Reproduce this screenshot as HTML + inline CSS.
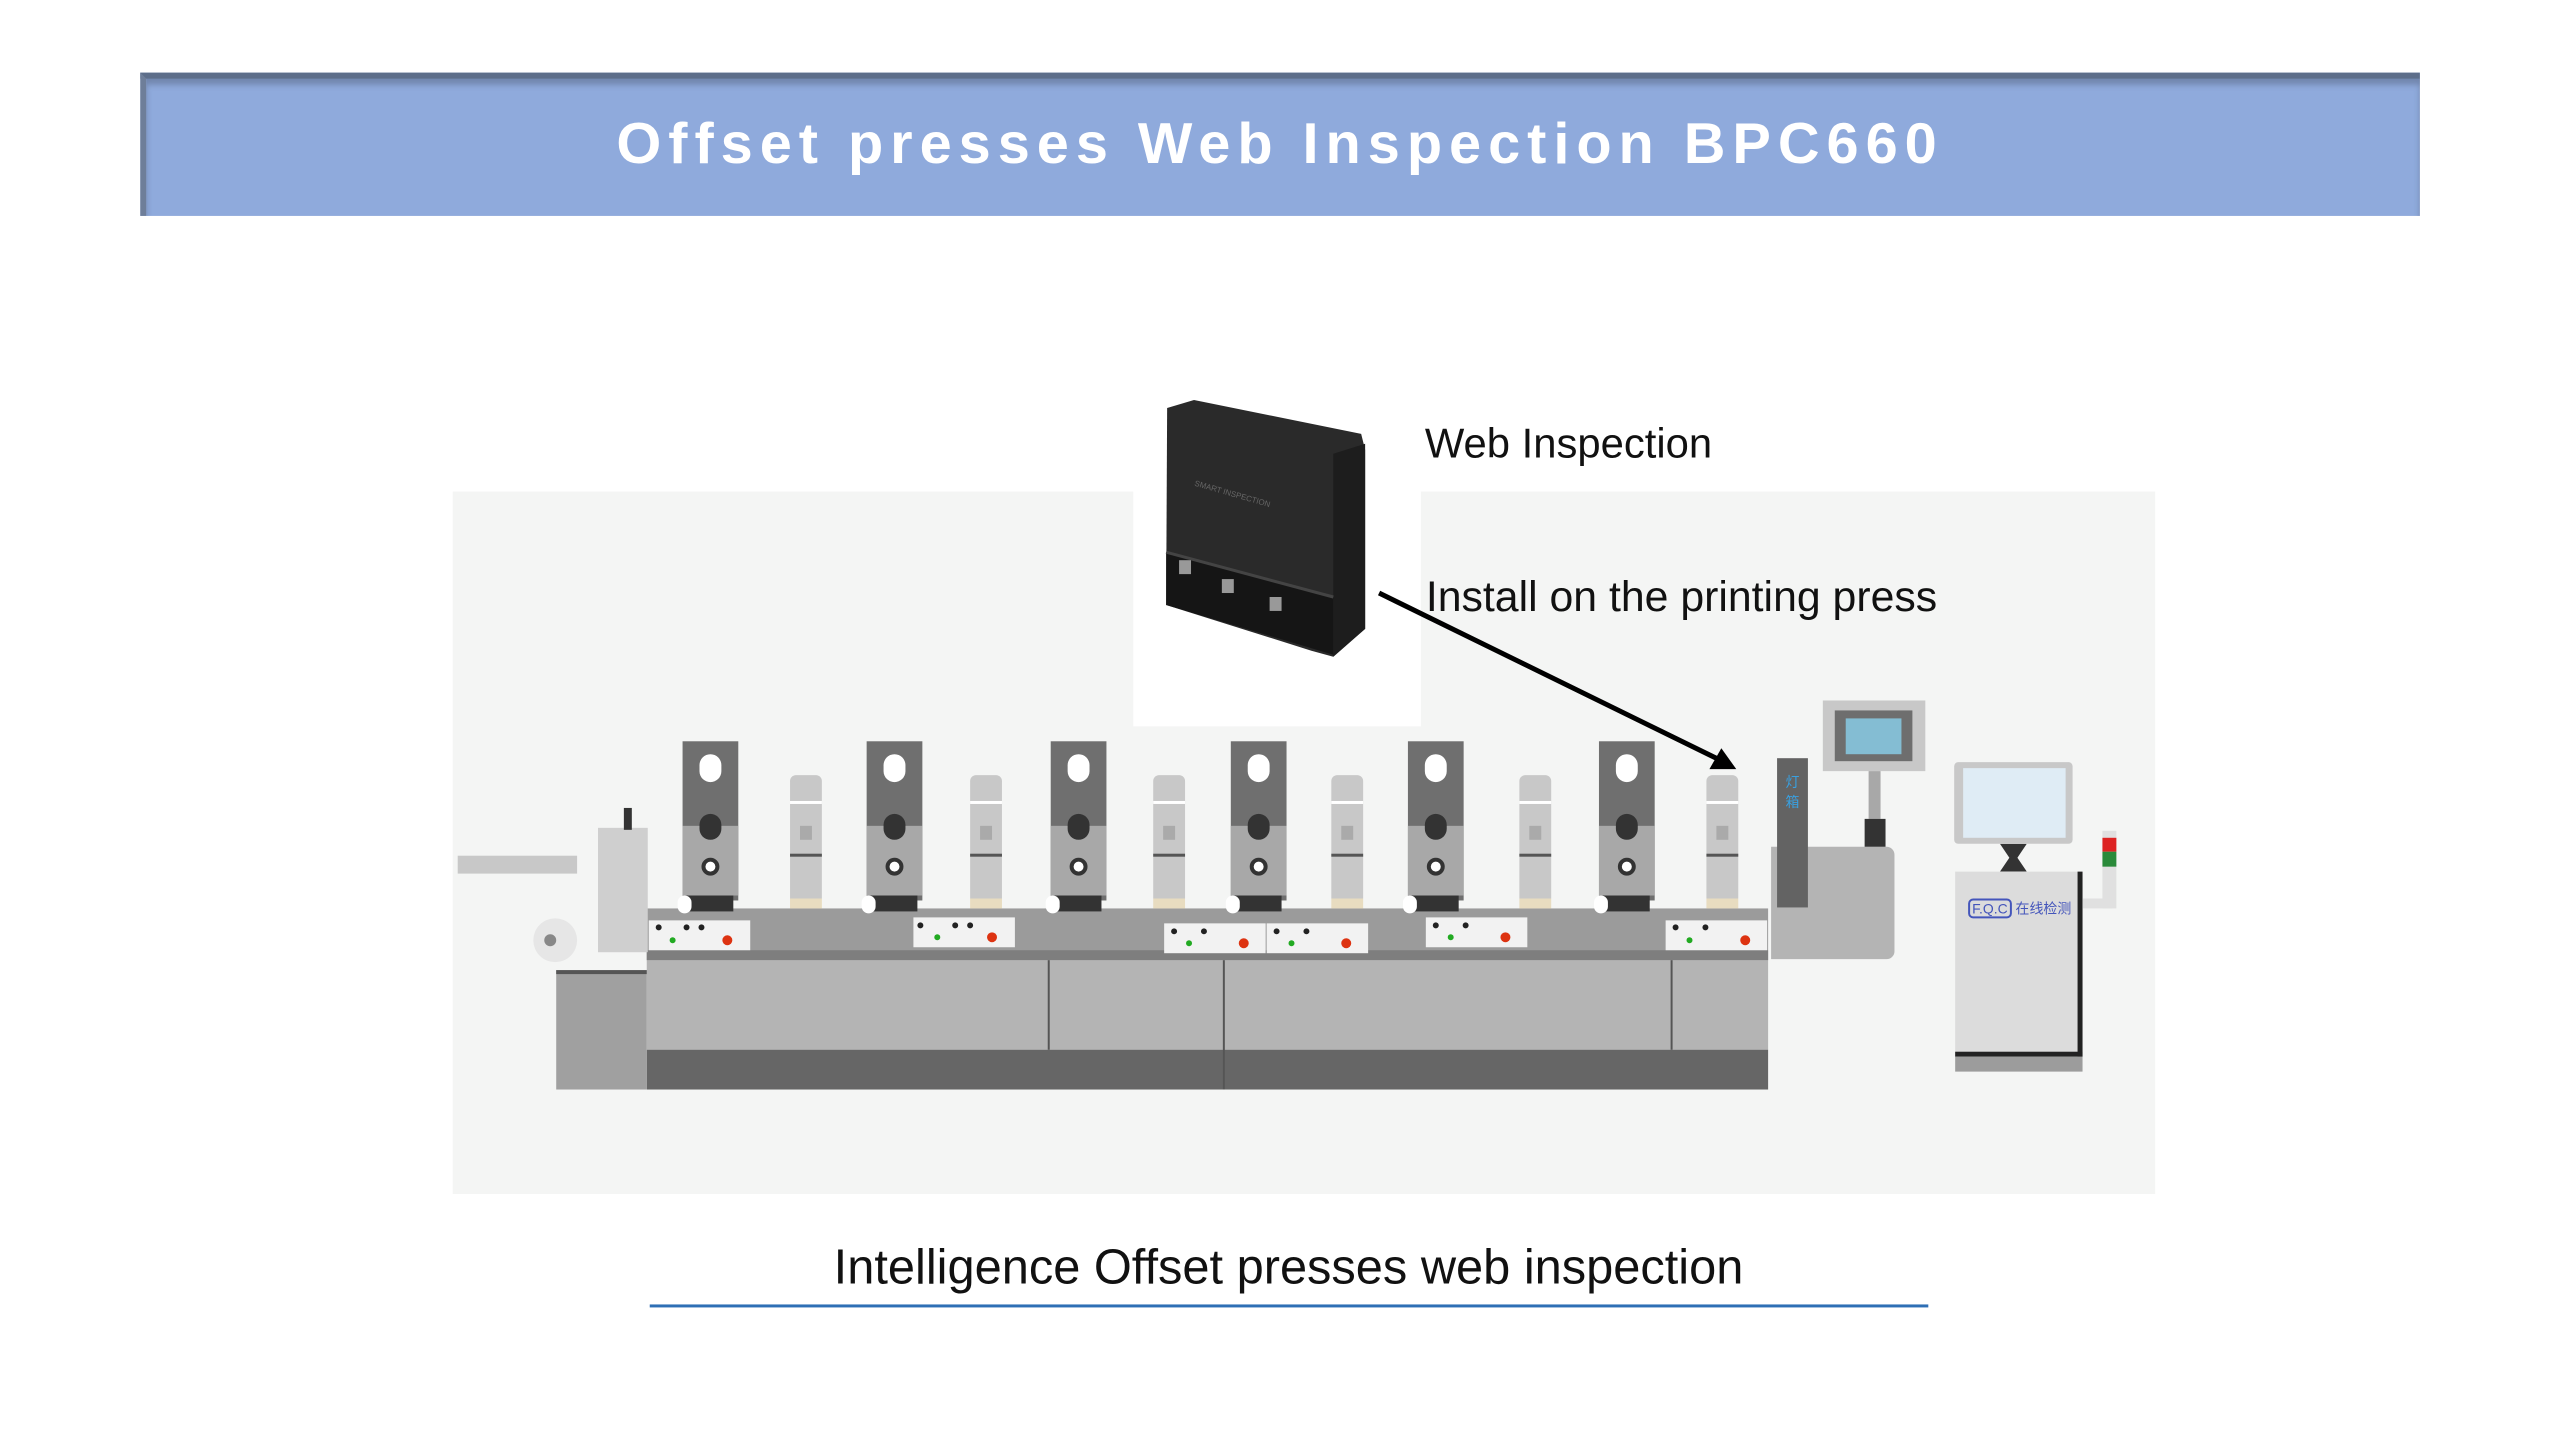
<!DOCTYPE html>
<html><head><meta charset="utf-8"><style>
*{margin:0;padding:0;box-sizing:border-box}
body{width:2560px;height:1440px;background:#fff;position:relative;overflow:hidden;font-family:"Liberation Sans",sans-serif}
#w{position:absolute;left:0;top:0;width:2560px;height:1440px;transform:scale(0.995);transform-origin:0 0}
.a{position:absolute}
.hdr{left:141px;top:73px;width:2291px;height:144px;background:#8faadc;border-top:6px solid #5d6e8a;border-left:6px solid #6e7e99;box-shadow:inset 0 6px 6px rgba(60,70,90,.35)}
.ttl{left:141px;top:73px;width:2291px;height:144px;line-height:144px;text-align:center;color:#fff;font-weight:bold;font-size:58px;letter-spacing:7px}
</style></head><body><div id="w">
<div class="a hdr"></div>
<div class="a ttl">Offset presses Web Inspection BPC660</div>

<div class="a" style="left:455px;top:494px;width:1711px;height:706px;background:#f4f5f4"></div>
<div class="a" style="left:1139px;top:354px;width:289px;height:376px;background:#fff"></div>

<svg class="a" style="left:0;top:0" width="2560" height="1440">
<polygon points="1173,410 1200,402 1368,436 1372,452 1372,632 1340,660 1318,654 1172,608" fill="#2a2a2a"/>
<polygon points="1340,456 1372,446 1372,632 1340,660" fill="#1d1d1d"/>
<polygon points="1172,555 1340,600 1340,658 1172,608" fill="#151515"/>
<line x1="1172" y1="555" x2="1340" y2="600" stroke="#444" stroke-width="3"/>
<text x="1200" y="488" font-size="8" fill="#666" transform="rotate(16 1200 488)">SMART INSPECTION</text>
<g fill="#999"><rect x="1185" y="563" width="12" height="14"/><rect x="1228" y="582" width="12" height="14"/><rect x="1276" y="600" width="12" height="14"/></g>
<line x1="1386" y1="596" x2="1735" y2="767" stroke="#000" stroke-width="5"/>
<polygon points="1745,773 1718,773 1730,752" fill="#000"/>

<rect x="650" y="913" width="1127" height="52" fill="#9b9b9b"/>
<rect x="650" y="965" width="1127" height="90" fill="#b4b4b4"/>
<rect x="650" y="1055" width="1127" height="40" fill="#666"/>
<rect x="559" y="975" width="91" height="120" fill="#a0a0a0"/>
<rect x="559" y="975" width="91" height="4" fill="#555"/>
<g stroke="#555" stroke-width="2"><line x1="1054" y1="965" x2="1054" y2="1055"/><line x1="1230" y1="965" x2="1230" y2="1095"/><line x1="1680" y1="965" x2="1680" y2="1055"/></g>
<rect x="650" y="955" width="1127" height="10" fill="#7e7e7e"/>
<rect x="460" y="860" width="120" height="18" fill="#c8c8c8"/>
<rect x="601" y="832" width="50" height="125" fill="#cfcfcf"/>
<circle cx="558" cy="945" r="22" fill="#e6e6e6"/>
<circle cx="553" cy="945" r="6" fill="#888"/>
<rect x="627" y="812" width="8" height="22" fill="#333"/>
<g fill="#f2f2f2">
<rect x="652" y="925" width="102" height="30"/><rect x="918" y="922" width="102" height="30"/><rect x="1170" y="928" width="102" height="30"/><rect x="1273" y="928" width="102" height="30"/><rect x="1433" y="922" width="102" height="30"/><rect x="1674" y="925" width="102" height="30"/></g>
<g fill="#222">
<circle cx="662" cy="932" r="3"/><circle cx="690" cy="932" r="3"/><circle cx="705" cy="932" r="3"/><circle cx="925" cy="930" r="3"/><circle cx="960" cy="930" r="3"/><circle cx="975" cy="930" r="3"/><circle cx="1180" cy="936" r="3"/><circle cx="1210" cy="936" r="3"/><circle cx="1283" cy="936" r="3"/><circle cx="1313" cy="936" r="3"/><circle cx="1443" cy="930" r="3"/><circle cx="1473" cy="930" r="3"/><circle cx="1684" cy="932" r="3"/><circle cx="1714" cy="932" r="3"/></g>
<g fill="#d31"><circle cx="731" cy="945" r="5"/><circle cx="997" cy="942" r="5"/><circle cx="1250" cy="948" r="5"/><circle cx="1353" cy="948" r="5"/><circle cx="1513" cy="942" r="5"/><circle cx="1754" cy="945" r="5"/></g>
<g fill="#2a2"><circle cx="676" cy="945" r="3"/><circle cx="942" cy="942" r="3"/><circle cx="1195" cy="948" r="3"/><circle cx="1298" cy="948" r="3"/><circle cx="1458" cy="942" r="3"/><circle cx="1698" cy="945" r="3"/></g>
</svg>

<div id="u"></div>
<script>
var dk=[714,899,1084,1265,1443,1635],lt=[810,991,1175,1354,1543,1731],h='';
dk.forEach(function(x){h+='<div class="a" style="left:'+(x-28)+'px;top:745px;width:56px;height:160px;background:#6f6f6f"></div>'+
'<div class="a" style="left:'+(x-28)+'px;top:830px;width:56px;height:70px;background:#a8a8a8"></div>'+
'<div class="a" style="left:'+(x-11)+'px;top:758px;width:22px;height:28px;border-radius:11px;background:#fff"></div>'+
'<div class="a" style="left:'+(x-11)+'px;top:818px;width:22px;height:26px;border-radius:11px;background:#333"></div>'+
'<div class="a" style="left:'+(x-9)+'px;top:862px;width:18px;height:18px;border-radius:9px;border:4px solid #333;background:#fff"></div>'+
'<div class="a" style="left:'+(x-27)+'px;top:900px;width:50px;height:16px;background:#333"></div>'+
'<div class="a" style="left:'+(x-33)+'px;top:900px;width:14px;height:18px;border-radius:7px;background:#fff"></div>';});
lt.forEach(function(x){h+='<div class="a" style="left:'+(x-16)+'px;top:779px;width:32px;height:124px;border-radius:6px 6px 0 0;background:#c8c8c8"></div>'+
'<div class="a" style="left:'+(x-16)+'px;top:805px;width:32px;height:3px;background:#fff"></div>'+
'<div class="a" style="left:'+(x-6)+'px;top:830px;width:12px;height:14px;background:#aaa"></div>'+
'<div class="a" style="left:'+(x-16)+'px;top:858px;width:32px;height:3px;background:#555"></div>'+
'<div class="a" style="left:'+(x-16)+'px;top:903px;width:32px;height:10px;background:#e8dcc0"></div>';});
document.getElementById('u').innerHTML=h;
</script>

<div class="a" style="left:1780px;top:851px;width:124px;height:113px;background:#b4b4b4;border-radius:0 8px 8px 0"></div>
<div class="a" style="left:1786px;top:762px;width:31px;height:150px;background:#636363;color:#39a0e0;font-size:14px;text-align:center;padding-top:14px;font-family:'Noto Sans CJK SC',sans-serif">灯<br>箱</div>
<div class="a" style="left:1832px;top:704px;width:103px;height:71px;background:#c8c8c8"></div>
<div class="a" style="left:1844px;top:714px;width:78px;height:51px;background:#6e6e6e"></div>
<div class="a" style="left:1855px;top:722px;width:56px;height:36px;background:#84bdd3"></div>
<div class="a" style="left:1878px;top:775px;width:12px;height:48px;background:#a8a8a8"></div>
<div class="a" style="left:1874px;top:823px;width:21px;height:28px;background:#333"></div>
<div class="a" style="left:1964px;top:766px;width:119px;height:82px;background:#c8c8c8;border-radius:4px"></div>
<div class="a" style="left:1973px;top:772px;width:103px;height:70px;background:#dfecf5"></div>
<div class="a" style="left:2010px;top:848px;width:27px;height:28px;background:#333;clip-path:polygon(0 0,100% 0,65% 50%,100% 100%,0 100%,35% 50%)"></div>
<div class="a" style="left:1965px;top:876px;width:128px;height:186px;background:#dcdcdc;border-right:5px solid #222;border-bottom:5px solid #222"></div>
<div class="a" style="left:1965px;top:1062px;width:128px;height:15px;background:#9c9c9c"></div>
<div class="a" style="left:1978px;top:903px;font-size:14px;color:#4455bb;font-family:'Liberation Sans','Noto Sans CJK SC',sans-serif"><span style="border:2px solid #4455bb;border-radius:5px;padding:0 2px">F.Q.C</span> 在线检测</div>
<div class="a" style="left:2093px;top:903px;width:30px;height:10px;background:#e0e0e0"></div>
<div class="a" style="left:2113px;top:835px;width:14px;height:78px;background:#e0e0e0"></div>
<div class="a" style="left:2113px;top:842px;width:14px;height:14px;background:#d22"></div>
<div class="a" style="left:2113px;top:856px;width:14px;height:15px;background:#2a8a3a"></div>

<div class="a" style="left:1432px;top:422px;font-size:42px;color:#111">Web Inspection</div>
<div class="a" style="left:1433px;top:576px;font-size:43px;color:#111">Install on the printing press</div>

<div class="a" style="left:600px;top:1246px;width:1390px;text-align:center;font-size:49px;color:#111">Intelligence Offset presses web inspection</div>
<div class="a" style="left:653px;top:1311px;width:1285px;height:3px;background:#2e6fb5"></div>
</div></body></html>
